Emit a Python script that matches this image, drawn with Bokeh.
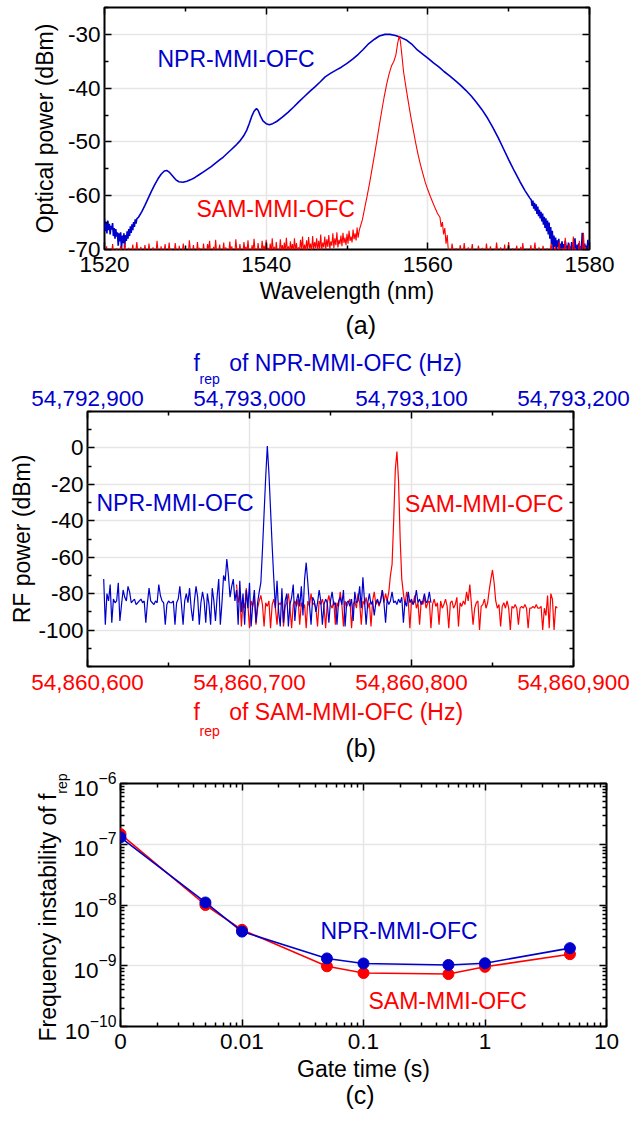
import numpy as np
from bokeh.plotting import figure
from bokeh.models import (Range1d, LinearAxis, LogAxis, FixedTicker, NumeralTickFormatter,
                          CustomJSTickFormatter, LogTickFormatter, Label, Title)
from bokeh.embed import file_html
from bokeh.resources import INLINE

# ------------------------------------------------------------------ data
# (a) optical spectra
npr_tail_left_start_nm = 1520.0          # 0.1 nm sampling
npr_tail_left_db = [-64.3, -66.6, -65.0, -67.0, -64.6, -66.4, -65.2, -67.2, -65.6, -66.3,
                    -65.1, -67.5, -66.0, -68.0, -66.2, -67.6, -66.8, -69.3, -67.0, -68.5,
                    -66.8, -70.0, -67.4, -68.8, -67.0, -69.6, -67.3, -68.4, -66.6, -68.0,
                    -66.2, -67.5, -65.7, -66.9, -65.3, -66.4, -64.9, -65.8, -64.4, -65.2,
                    -64.3]
npr_body_nm = [1524.2, 1524.6, 1525.0, 1525.4, 1525.8, 1526.2, 1526.6, 1527.0, 1527.4, 1527.7,
               1528.0, 1528.4, 1528.8, 1529.2, 1529.7, 1530.2, 1530.7, 1531.2, 1531.7, 1532.2,
               1532.7, 1533.2, 1533.7, 1534.2, 1534.7, 1535.2, 1535.7, 1536.2, 1536.7, 1537.2,
               1537.6, 1537.9, 1538.2, 1538.5, 1538.8, 1539.0, 1539.3, 1539.6, 1540.0, 1540.4,
               1540.8, 1541.3, 1542.0, 1542.7, 1543.4, 1544.0, 1544.7, 1545.4, 1546.0, 1546.7,
               1547.3, 1548.0, 1548.7, 1549.3, 1550.0, 1550.7, 1551.4, 1552.0, 1552.7, 1553.4,
               1554.0, 1554.7, 1555.3, 1556.0, 1556.7, 1557.4, 1558.0, 1558.7, 1559.4, 1560.0,
               1560.7, 1561.4, 1562.0, 1562.7, 1563.4, 1564.0, 1564.7, 1565.4, 1566.0, 1566.7,
               1567.4, 1568.0, 1568.7, 1569.4, 1570.0, 1570.7, 1571.4, 1572.0, 1572.6]
npr_body_db = [-64.0, -63.0, -61.8, -60.5, -59.2, -58.0, -56.9, -56.0, -55.4, -55.3,
               -55.6, -56.3, -57.0, -57.4, -57.5, -57.3, -57.0, -56.6, -56.1, -55.6,
               -55.1, -54.6, -54.0, -53.4, -52.8, -52.1, -51.4, -50.7, -49.9, -48.9,
               -47.8, -46.6, -45.3, -44.3, -43.8, -44.1, -45.2, -46.1, -46.6, -46.8,
               -46.6, -46.2, -45.4, -44.5, -43.5, -42.6, -41.6, -40.6, -39.8, -38.8,
               -37.9, -37.2, -36.6, -36.1, -35.4, -34.6, -33.7, -32.8, -31.7, -30.9,
               -30.3, -30.0, -30.0, -30.2, -30.6, -31.1, -31.8, -32.9, -33.7, -34.4,
               -35.3, -36.1, -36.9, -37.7, -38.6, -39.4, -40.4, -41.5, -42.6, -44.0,
               -45.6, -47.2, -49.2, -51.4, -53.3, -55.4, -57.4, -59.0, -60.4]
npr_tail_right_start_nm = 1572.8        # 0.1 nm sampling
npr_tail_right_db = [-60.8, -61.9, -60.9, -62.4, -61.3, -62.8, -61.6, -63.4, -62.0, -63.8,
                     -62.6, -64.2, -63.0, -64.8, -63.3, -65.4, -63.9, -66.0, -64.2, -66.6,
                     -64.6, -67.2, -65.0, -68.0, -65.8, -69.0, -66.5, -70.0, -67.4, -69.5,
                     -67.8, -70.0, -68.3, -69.6, -68.0, -70.0, -68.9, -69.8, -68.5, -70.0,
                     -69.0, -70.0, -68.4, -69.7, -69.3, -70.0, -68.7, -70.0, -69.5, -70.0,
                     -68.6, -70.0, -69.2, -70.0, -67.9, -69.8, -70.0, -69.1, -70.0, -68.8,
                     -70.0, -69.4, -70.0, -66.9, -69.6, -70.0, -68.9, -70.0, -69.3, -70.0,
                     -68.2, -69.8, -70.0]

sam_floor_left_start_nm = 1520.0        # 0.125 nm sampling
sam_floor_left_db = [
    -70.5, -70.8, -69.4, -70.6, -70.8, -70.3, -70.2, -70.9, -69.0, -70.5,
    -70.6, -70.7, -69.8, -70.2, -70.9, -70.6, -69.3, -70.4, -70.4, -70.8,
    -68.8, -70.6, -70.6, -70.3, -69.7, -70.9, -70.3, -70.5, -69.1, -70.7,
    -70.8, -70.2, -68.6, -70.6, -70.2, -70.4, -69.5, -70.8, -70.7, -70.6,
    -69.2, -70.3, -70.4, -70.9, -68.9, -70.5, -70.6, -70.7, -69.6, -70.2,
    -70.1, -70.6, -68.4, -70.4, -70.5, -70.8, -69.4, -70.6, -70.0, -70.3,
    -69.0, -70.9, -70.7, -70.5, -68.7, -70.7, -69.9, -70.2, -70.4, -70.6,
    -68.8, -70.4, -70.3, -70.8, -69.3, -70.6, -70.6, -70.3, -68.9, -70.9,
    -69.8, -70.5, -70.3, -70.7, -68.3, -70.2, -70.1, -70.6, -69.2, -70.4,
    -70.5, -70.8, -68.6, -70.6, -69.7, -70.3, -70.2, -70.9, -68.9, -70.5,
    -70.4, -70.7, -69.0, -70.2, -68.4, -70.6, -70.2, -70.4, -69.5, -70.8,
    -68.2, -70.6, -70.0, -70.3, -69.1, -70.9, -70.3, -70.5, -68.7, -70.7,
    -69.6, -70.2, -70.1, -70.6, -68.5, -70.4, -69.4, -70.8, -70.2, -70.6,
    -68.1, -70.3, -69.8, -70.9, -69.0, -70.5, -70.4, -70.7, -68.6, -70.2,
    -69.5, -70.6, -68.3, -70.4, -70.0, -70.8, -69.2, -70.6, -68.0, -70.3,
    -69.9, -70.9, -68.8, -70.5, -70.1, -70.7, -68.4, -70.2, -69.3, -70.6,
    -68.2, -70.4, -69.7, -70.8, -68.9, -70.6, -67.9, -70.3, -69.5, -70.9,
    -68.6, -70.5, -70.0, -70.7, -68.1, -70.2, -69.2, -70.6, -68.7, -70.4,
    -67.8, -70.3, -69.4, -70.6, -68.5, -70.1, -69.0, -70.5, -67.9, -70.2,
    -68.8, -70.7, -69.6, -70.4, -68.2, -70.0, -67.6, -70.5, -69.1, -70.3,
    -68.3, -70.1, -67.7, -69.8, -68.9, -70.4, -67.5, -70.0, -68.6, -69.7,
    -67.9, -70.3, -68.4, -69.9, -67.2, -70.2, -68.7, -69.6, -67.6, -70.0,
    -68.1, -69.5, -67.3, -69.9, -68.5, -69.3, -67.0, -69.7, -67.9, -69.2,
    -66.8, -69.6, -68.2, -69.0, -67.4, -69.4, -66.9, -68.8, -67.8, -69.2,
    -67.1, -68.9, -66.5, -68.4, -67.6, -68.7, -66.3, -68.1, -67.0, -68.3,
    -65.9, -67.8, -66.6]
sam_peak_nm = [1551.6, 1551.9, 1552.2, 1552.5, 1552.8, 1553.1, 1553.4, 1553.7, 1554.0, 1554.3,
               1554.6, 1554.9, 1555.2, 1555.5, 1555.8, 1556.05, 1556.25, 1556.45, 1556.6, 1556.8,
               1557.0, 1557.3, 1557.6, 1557.9, 1558.2, 1558.5, 1558.8, 1559.1, 1559.4, 1559.7,
               1560.0, 1560.3, 1560.6, 1560.9, 1561.2, 1561.5, 1561.65, 1561.8, 1561.95, 1562.1,
               1562.25, 1562.4]
sam_peak_db = [-66.0, -64.5, -62.2, -60.0, -57.6, -55.0, -52.4, -49.7, -46.9, -44.2,
               -41.6, -39.3, -37.4, -35.9, -35.0, -33.8, -31.8, -30.3, -31.2, -34.0,
               -37.0, -39.9, -42.7, -45.4, -47.8, -50.2, -52.4, -54.3, -56.0, -57.6,
               -58.9, -60.1, -61.2, -62.3, -63.3, -64.0, -65.8, -64.9, -67.2, -66.0,
               -68.9, -67.3]
sam_floor_right_start_nm = 1562.5       # 0.125 nm sampling
sam_floor_right_db = [
    -69.5, -70.8, -70.6, -70.6, -68.9, -70.3, -70.2, -70.9, -69.8, -70.5,
    -70.7, -70.7, -69.2, -70.2, -70.4, -70.6, -68.8, -70.4, -70.1, -70.8,
    -69.6, -70.6, -70.8, -70.3, -69.0, -70.9, -70.3, -70.5, -70.6, -70.7,
    -69.3, -70.2, -70.9, -70.6, -69.7, -70.4, -70.2, -70.8, -68.9, -70.6,
    -70.5, -70.3, -69.4, -70.9, -70.8, -70.5, -69.9, -70.7, -68.7, -70.2,
    -70.3, -70.6, -69.6, -70.4, -70.7, -70.8, -69.1, -70.6, -70.4, -70.3,
    -68.6, -70.9, -70.2, -70.5, -69.8, -70.7, -70.6, -70.2, -69.3, -70.6,
    -70.9, -70.4, -69.5, -70.8, -68.8, -70.6, -70.3, -70.3, -69.9, -70.9,
    -70.6, -70.5, -69.2, -70.7, -70.4, -70.2, -68.7, -70.6, -70.1, -70.4,
    -69.6, -70.8, -70.8, -70.6, -69.3, -70.3, -70.5, -70.9, -69.8, -70.5,
    -70.3, -70.7, -68.9, -70.2, -70.6, -70.6, -69.4, -70.4, -70.1, -70.8,
    -68.5, -70.6, -70.4, -70.3, -69.7, -70.9, -67.8, -70.5, -70.2, -70.7,
    -68.9, -70.2, -70.5, -70.6, -67.6, -70.4, -69.8, -70.8, -70.3, -70.6,
    -68.4, -70.3, -70.1, -70.9, -66.9, -70.5, -69.5, -70.7, -70.2, -70.2,
    -69.0]

# (b) RF spectra, 1 Hz sampling
npr_rf_start_hz = 54792910
npr_rf_db = [-72, -97, -80, -84, -75, -96, -83, -85, -84, -74,
             -95, -86, -78, -82, -84, -76, -79, -85, -84, -83,
             -86, -85, -84, -83, -85, -84, -96, -85, -77, -84,
             -85, -86, -84, -85, -75, -81, -84, -85, -97, -86,
             -84, -85, -85, -84, -97, -85, -83, -76, -86, -97,
             -84, -80, -85, -77, -88, -95, -84, -76, -82, -97,
             -85, -79, -84, -96, -80, -86, -97, -77, -84, -95,
             -82, -72, -97, -85, -70, -73, -61, -70, -82, -76,
             -72, -84, -78, -97, -73, -90, -80, -97, -78, -88,
             -74, -98, -86, -78, -96, -85, -79, -74, -56, -36,
             -16, 1, -14, -34, -54, -72, -88, -73, -90, -98,
             -77, -96, -84, -80, -98, -86, -82, -75, -95, -84,
             -80, -87, -76, -92, -72, -63, -74, -86, -97, -82,
             -84, -90, -85, -78, -84, -97, -86, -83, -85, -96,
             -84, -79, -86, -85, -97, -84, -82, -86, -78, -98,
             -85, -84, -87, -83, -95, -79, -85, -84, -76, -88,
             -71, -84, -97, -85, -80, -86, -84, -92, -85, -83,
             -86, -84, -78, -85, -96, -83, -86, -84, -79, -85,
             -84, -86, -83, -85, -82, -96, -84, -87, -79, -85,
             -83, -86, -84, -78, -85, -83, -86, -84, -80, -85,
             -84, -79, -85]
sam_rf_start_hz = 54860692
sam_rf_db = [-75, -85, -80, -98, -84, -88, -77, -86,
             -99, -84, -87, -82, -97, -88, -84, -81, -86, -98,
             -85, -87, -84, -99, -86, -83, -88, -97, -85, -86,
             -84, -98, -87, -85, -80, -88, -99, -86, -84, -87,
             -83, -97, -85, -88, -86, -99, -84, -87, -80, -86,
             -85, -88, -98, -84, -86, -83, -87, -99, -85, -81,
             -86, -88, -84, -97, -85, -87, -79, -86, -98, -84,
             -87, -85, -83, -99, -86, -84, -88, -80, -85, -97,
             -84, -86, -82, -88, -85, -98, -84, -79, -86, -84,
             -87, -83, -78, -85, -80, -84, -79, -70, -64, -40,
             -12, -2, -18, -50, -72, -80, -86, -79, -84, -99,
             -84, -86, -81, -88, -85, -97, -84, -86, -82, -88,
             -85, -84, -99, -86, -83, -87, -85, -97, -84, -88,
             -86, -83, -87, -99, -85, -84, -88, -86, -82, -98,
             -85, -87, -84, -86, -79, -84, -75, -86, -97, -88,
             -85, -84, -100, -87, -86, -83, -88, -85, -78, -72,
             -67, -74, -84, -88, -86, -98, -87, -85, -88, -84,
             -88, -100, -87, -88, -86, -88, -97, -88, -87, -88,
             -86, -88, -99, -88, -88, -87, -88, -86, -88, -88,
             -87, -100, -88, -92, -81, -99, -80, -83, -100, -87,
             -88]

# (c) frequency instability
gate_time_s = [0.001, 0.005, 0.01, 0.05, 0.1, 0.5, 1, 5]
npr_instability = [1.30e-7, 1.10e-8, 3.65e-9, 1.32e-9, 1.09e-9, 1.03e-9, 1.10e-9, 1.95e-9]
sam_instability = [1.47e-7, 1.00e-8, 3.90e-9, 0.98e-9, 7.6e-10, 7.3e-10, 9.6e-10, 1.55e-9]

# ------------------------------------------------------------------ style
FONT = "Liberation Sans"
BLUE = "#0000CC"
RED = "#FF0000"
GRID = "#E6E6E6"
TICK_FS = "22.5px"
TITLE_FS = "23px"
SUB_FS = "14px"
W = 641
EMPTY = "return ''"


def style_axis(ax, labels=True, color="black", standoff=4):
    ax.axis_line_color = None
    ax.major_tick_in = 7
    ax.major_tick_out = 0
    ax.minor_tick_in = 4
    ax.minor_tick_out = 0
    ax.major_tick_line_color = "black"
    ax.minor_tick_line_color = "black"
    ax.major_tick_line_width = 1.5
    ax.minor_tick_line_width = 1.5
    ax.major_label_text_font = FONT
    ax.axis_label_text_font = FONT
    ax.axis_label_text_font_size = TITLE_FS
    ax.axis_label_text_font_style = "normal"
    ax.axis_label_text_color = "black"
    if labels:
        ax.major_label_text_color = color
        ax.major_label_text_font_size = TICK_FS
        ax.major_label_standoff = standoff
    else:
        ax.formatter = CustomJSTickFormatter(code=EMPTY)
        ax.major_label_text_color = None
        ax.major_label_text_font_size = "1px"
        ax.major_label_standoff = 0


def base_fig(h, left, right, top, bottom, **kw):
    p = figure(width=W, height=h, output_backend="svg", toolbar_location=None, title=None,
               min_border_left=left, min_border_right=right,
               min_border_top=top, min_border_bottom=bottom, **kw)
    p.outline_line_color = "black"
    p.outline_line_width = 2
    p.outline_line_alpha = 1
    p.background_fill_color = "white"
    p.border_fill_color = "white"
    p.grid.grid_line_color = GRID
    p.grid.grid_line_width = 1.5
    return p


def add_title(p, side, text, offset, standoff, valign, size=TITLE_FS, color="black",
              align="left"):
    p.add_layout(Title(text=text, align=align, offset=offset, standoff=standoff,
                       vertical_align=valign, text_font=FONT, text_font_size=size,
                       text_font_style="normal", text_color=color), side)


def page_to_data(frame, px, py):
    L, R, T, B, x0, x1, ytop, ybot, xlog, ylog = frame
    fx = (px - L) / (R - L)
    fy = (py - T) / (B - T)
    if xlog:
        x = 10 ** (np.log10(x0) + fx * (np.log10(x1) - np.log10(x0)))
    else:
        x = x0 + fx * (x1 - x0)
    if ylog:
        y = 10 ** (np.log10(ytop) + fy * (np.log10(ybot) - np.log10(ytop)))
    else:
        y = ytop + fy * (ybot - ytop)
    return float(x), float(y)


def add_text(p, frame, px, py, text, color, align="left"):
    x, y = page_to_data(frame, px, py)
    p.add_layout(Label(x=x, y=y, text=text, text_font=FONT, text_font_size=TITLE_FS,
                       text_color=color, text_align=align, text_baseline="middle"))


# ------------------------------------------------------------------ (a)  page y 0..346
FA = (104, 589, 7, 249, 1520, 1580, -25, -70, False, False)
pa = base_fig(346, 104, 52, 7, 97, x_range=Range1d(1520, 1580), y_range=Range1d(-70, -25))
ta_x = FixedTicker(ticks=[1520, 1540, 1560, 1580], minor_ticks=[1530, 1550, 1570])
ta_y = FixedTicker(ticks=[-70, -60, -50, -40, -30], minor_ticks=[-65, -55, -45, -35, -25])
pa.xaxis.ticker = ta_x
pa.yaxis.ticker = ta_y
pa.xgrid.ticker = ta_x
pa.ygrid.ticker = ta_y
pa.xaxis.formatter = NumeralTickFormatter(format="0")
pa.yaxis.formatter = NumeralTickFormatter(format="0")
style_axis(pa.xaxis[0], standoff=7)
style_axis(pa.yaxis[0])
pa.xaxis.axis_label = "Wavelength (nm)"
pa.xaxis.axis_label_standoff = 3
pa.yaxis.axis_label = "Optical power (dBm)"
pa.yaxis.axis_label_standoff = 7
for side, axis in (("above", LinearAxis(ticker=ta_x)), ("right", LinearAxis(ticker=ta_y))):
    style_axis(axis, labels=False)
    pa.add_layout(axis, side)
add_title(pa, "below", "(a)", 241, 5, "bottom", size="25px")

npr_wl = np.concatenate([
    np.round(npr_tail_left_start_nm + 0.1 * np.arange(len(npr_tail_left_db)), 3),
    np.array(npr_body_nm),
    np.round(npr_tail_right_start_nm + 0.1 * np.arange(len(npr_tail_right_db)), 3)])
npr_db = np.concatenate([npr_tail_left_db, npr_body_db, npr_tail_right_db])
sam_wl = np.concatenate([
    np.round(sam_floor_left_start_nm + 0.125 * np.arange(len(sam_floor_left_db)), 3),
    np.array(sam_peak_nm),
    np.round(sam_floor_right_start_nm + 0.125 * np.arange(len(sam_floor_right_db)), 3)])
sam_db = np.concatenate([sam_floor_left_db, sam_peak_db, sam_floor_right_db])
pa.line(npr_wl, npr_db, line_color=BLUE, line_width=1.6)
pa.line(sam_wl, sam_db, line_color=RED, line_width=1.1)

add_text(pa, FA, 157, 58, "NPR-MMI-OFC", BLUE)
add_text(pa, FA, 196, 208, "SAM-MMI-OFC", RED)

# ------------------------------------------------------------------ (b)  page y 346..766
FB = (87, 573, 411, 666, 54860600, 54860900, 20, -120, False, False)
pb = base_fig(420, 87, 68, 65, 100, x_range=Range1d(54860600, 54860900),
              y_range=Range1d(-120, 20))
pb.extra_x_ranges = {"npr": Range1d(54792900, 54793200)}
tb_x = FixedTicker(ticks=[54860600, 54860700, 54860800, 54860900],
                   minor_ticks=[54860650, 54860750, 54860850])
tb_top = FixedTicker(ticks=[54792900, 54793000, 54793100, 54793200],
                     minor_ticks=[54792950, 54793050, 54793150])
tb_y = FixedTicker(ticks=[-100, -80, -60, -40, -20, 0],
                   minor_ticks=[-120, -110, -90, -70, -50, -30, -10, 10, 20])
pb.xaxis.ticker = tb_x
pb.xaxis.formatter = NumeralTickFormatter(format="0,0")
pb.yaxis.ticker = tb_y
pb.yaxis.formatter = NumeralTickFormatter(format="0")
pb.xgrid.ticker = tb_x
pb.ygrid.ticker = tb_y
style_axis(pb.xaxis[0], color=RED, standoff=8)
style_axis(pb.yaxis[0])
pb.yaxis.axis_label = "RF power (dBm)"
pb.yaxis.axis_label_standoff = 0
top_axis = LinearAxis(x_range_name="npr", ticker=tb_top,
                      formatter=NumeralTickFormatter(format="0,0"))
style_axis(top_axis, color=BLUE, standoff=6)
pb.add_layout(top_axis, "above")
right_b = LinearAxis(ticker=tb_y)
style_axis(right_b, labels=False)
pb.add_layout(right_b, "right")
# above the frame: subscript first (closest), then main line
add_title(pb, "above", "rep", 112, 2, "bottom", size=SUB_FS, color=BLUE)
add_title(pb, "above", "f\u2003 of NPR-MMI-OFC (Hz)", 106, -16, "bottom", color=BLUE)
# below the frame
add_title(pb, "below", "f\u2003 of SAM-MMI-OFC (Hz)", 106, 8, "bottom", color=RED)
add_title(pb, "below", "rep", 112, -12, "top", size=SUB_FS, color=RED)
add_title(pb, "below", "(b)", 258, -5, "bottom", size="25px")

sam_rf_x = sam_rf_start_hz + np.arange(len(sam_rf_db))
npr_rf_x = npr_rf_start_hz + np.arange(len(npr_rf_db))
pb.line(sam_rf_x, sam_rf_db, line_color=RED, line_width=1.2)
pb.line(npr_rf_x, npr_rf_db, line_color=BLUE, line_width=1.2, x_range_name="npr")

add_text(pb, FB, 96, 502, "NPR-MMI-OFC", BLUE)
add_text(pb, FB, 563, 503, "SAM-MMI-OFC", RED, align="right")

# ------------------------------------------------------------------ (c)  page y 766..1120
FC = (120, 606, 783, 1026, 1e-3, 10, 1e-6, 1e-10, True, True)
pc = base_fig(354, 120, 35, 17, 94, x_axis_type="log", y_axis_type="log",
              x_range=Range1d(1e-3, 10), y_range=Range1d(1e-10, 1e-6))
tc_x = FixedTicker(ticks=[1e-3, 1e-2, 1e-1, 1, 10],
                   minor_ticks=[k * 10.0 ** e for e in range(-3, 1) for k in range(2, 10)])
tc_y = FixedTicker(ticks=[1e-10, 1e-9, 1e-8, 1e-7, 1e-6],
                   minor_ticks=[k * 10.0 ** e for e in range(-10, -6) for k in range(2, 10)])
pc.xaxis.ticker = tc_x
pc.yaxis.ticker = tc_y
pc.xgrid.ticker = tc_x
pc.ygrid.ticker = tc_y
pc.xaxis.formatter = CustomJSTickFormatter(
    code="return tick < 0.005 ? '0' : String(parseFloat(tick.toPrecision(6)));")
pc.yaxis.formatter = LogTickFormatter()
style_axis(pc.xaxis[0], standoff=7)
style_axis(pc.yaxis[0])
pc.xaxis.axis_label = "Gate time (s)"
pc.xaxis.axis_label_standoff = 4
for side, axis in (("above", LogAxis(ticker=tc_x)), ("right", LogAxis(ticker=tc_y))):
    style_axis(axis, labels=False)
    pc.add_layout(axis, side)
add_title(pc, "left", "rep", -10, -16, "bottom", size=SUB_FS, align="right")
add_title(pc, "left", "Frequency instability of f", 10, -2, "bottom", align="right")
add_title(pc, "below", "(c)", 225, -12, "bottom", size="25px")

pc.line(gate_time_s, sam_instability, line_color=RED, line_width=1.6)
pc.scatter(gate_time_s, sam_instability, size=11, fill_color=RED, line_color=RED)
pc.line(gate_time_s, npr_instability, line_color=BLUE, line_width=1.6)
pc.scatter(gate_time_s, npr_instability, size=11, fill_color=BLUE, line_color=BLUE)

add_text(pc, FC, 320, 930, "NPR-MMI-OFC", BLUE)
add_text(pc, FC, 368, 1000, "SAM-MMI-OFC", RED)

open("out.html", "w").write(file_html([pa, pb, pc], INLINE))
